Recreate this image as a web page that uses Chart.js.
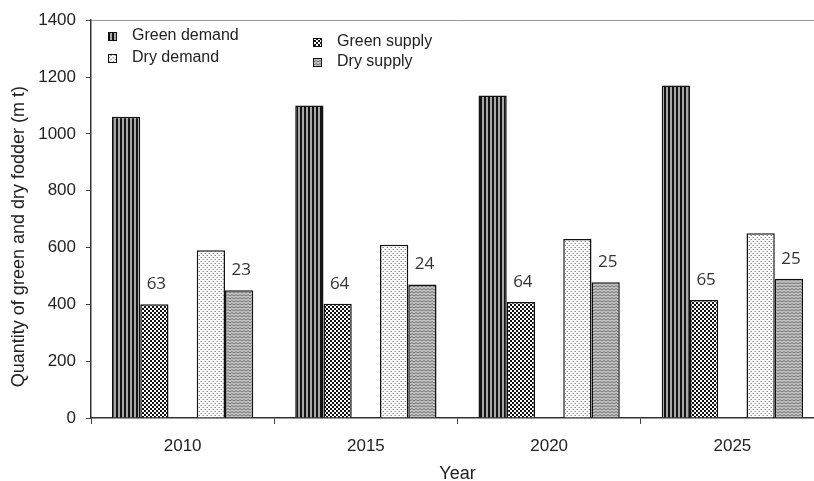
<!DOCTYPE html>
<html>
<head>
<meta charset="utf-8">
<script src="https://cdn.jsdelivr.net/npm/chart.js@4.4.1/dist/chart.umd.min.js"></script>
<style>
  html, body { margin: 0; padding: 0; background: #fff; overflow: hidden; }
</style>
</head>
<body>
<canvas id="chart" width="834" height="481"></canvas>
<script>
const years = ['2010', '2015', '2020', '2025'];
const greenDemand = [1060, 1100, 1135, 1170];
const greenSupply = [400, 402, 408, 415];
const dryDemand = [590, 610, 630, 650];
const drySupply = [450, 470, 478, 490];
// percentage labels written above the supply bars
const greenSupplyPct = [63, 64, 64, 65];
const drySupplyPct = [23, 24, 25, 25];
const spacer = [null, null, null, null];
const yTicks = [0, 200, 400, 600, 800, 1000, 1200, 1400];

const FONT = '"Liberation Sans", Arial, sans-serif';

function makePattern(w, h, draw) {
  const c = document.createElement('canvas');
  c.width = w;
  c.height = h;
  const g = c.getContext('2d');
  draw(g);
  return g.createPattern(c, 'repeat');
}

// vertical stripes
const stripes = makePattern(4, 4, (g) => {
  g.fillStyle = '#a8a8a8';
  g.fillRect(0, 0, 4, 4);
  g.fillStyle = '#141414';
  g.fillRect(0, 0, 2, 4);
});
// checker
const checks = makePattern(4, 4, (g) => {
  g.fillStyle = '#111';
  g.fillRect(0, 0, 4, 4);
  g.fillStyle = '#fff';
  g.fillRect(0, 0, 2, 2);
  g.fillRect(2, 2, 2, 2);
});
// light dots
const dots = makePattern(4, 4, (g) => {
  g.fillStyle = '#fff';
  g.fillRect(0, 0, 4, 4);
  g.fillStyle = '#888';
  g.fillRect(1, 1, 1, 1);
  g.fillRect(3, 3, 1, 1);
  g.fillStyle = '#c8c8c8';
  g.fillRect(0, 1, 1, 1);
  g.fillRect(2, 3, 1, 1);
});
// grey waves
const waves = makePattern(4, 3, (g) => {
  g.fillStyle = '#c4c4c4';
  g.fillRect(0, 0, 4, 3);
  g.strokeStyle = '#6e6e6e';
  g.lineWidth = 1;
  g.beginPath();
  g.moveTo(0, 0.5);
  g.lineTo(2, 2);
  g.lineTo(4, 0.5);
  g.stroke();
});

const legendPlugin = {
  id: 'cornerLegend',
  afterDraw(chart) {
    const ctx = chart.ctx;
    const spots = {
      'Green demand': [108, 32],
      'Dry demand': [108, 54],
      'Green supply': [313, 38],
      'Dry supply': [313, 58],
    };
    ctx.save();
    ctx.font = '16px ' + FONT;
    ctx.textBaseline = 'middle';
    ctx.textAlign = 'left';
    chart.data.datasets.forEach((ds) => {
      const p = spots[ds.label];
      if (!p) return;
      ctx.fillStyle = ds.backgroundColor;
      ctx.fillRect(p[0], p[1], 9, 9);
      ctx.strokeStyle = '#111';
      ctx.lineWidth = 1;
      ctx.strokeRect(p[0] + 0.5, p[1] + 0.5, 8, 8);
      ctx.fillStyle = '#222';
      ctx.fillText(ds.label, p[0] + 24, p[1] + 4);
    });
    ctx.restore();
  },
};

const pctPlugin = {
  id: 'pctLabels',
  afterDatasetsDraw(chart) {
    const ctx = chart.ctx;
    ctx.save();
    ctx.font = '17px "Open Sans", sans-serif';
    ctx.fillStyle = '#333';
    ctx.textAlign = 'center';
    ctx.textBaseline = 'middle';
    chart.data.datasets.forEach((ds, i) => {
      if (!ds.pct) return;
      chart.getDatasetMeta(i).data.forEach((bar, j) => {
        ctx.fillText(String(ds.pct[j]), bar.x + 2, bar.y - 20);
      });
    });
    ctx.restore();
  },
};

const barStyle = { borderColor: '#111', borderWidth: 1.5 };

new Chart(document.getElementById('chart'), {
  type: 'bar',
  data: {
    labels: years,
    datasets: [
      { label: 'Green demand', data: greenDemand, backgroundColor: stripes, ...barStyle },
      { label: 'Green supply', data: greenSupply, backgroundColor: checks, pct: greenSupplyPct, ...barStyle },
      { label: '', data: spacer },
      { label: 'Dry demand', data: dryDemand, backgroundColor: dots, ...barStyle },
      { label: 'Dry supply', data: drySupply, backgroundColor: waves, pct: drySupplyPct, ...barStyle },
    ],
  },
  options: {
    responsive: false,
    animation: false,
    layout: { padding: { top: 19, right: 10, left: 0, bottom: 0 } },
    datasets: { bar: { categoryPercentage: 0.771, barPercentage: 1 } },
    plugins: {
      legend: { display: false },
      tooltip: { enabled: false },
    },
    scales: {
      x: {
        grid: { offset: true, drawOnChartArea: false, tickLength: 6, tickColor: '#444' },
        border: { color: '#333', width: 1.5 },
        ticks: { font: { family: FONT, size: 17 }, color: '#222', padding: 12 },
        title: {
          display: true,
          text: 'Year',
          font: { family: FONT, size: 18, lineHeight: 1 },
          color: '#222',
          padding: { top: 4, bottom: -2 },
        },
        afterFit: (s) => { s.height = 63; },
      },
      y: {
        min: 0,
        max: 1400,
        afterBuildTicks: (s) => { s.ticks = yTicks.map((v) => ({ value: v })); },
        ticks: {
          font: { family: FONT, size: 17 },
          color: '#222',
          padding: 10,
          callback: (v) => String(v),
        },
        grid: {
          color: (c) => (c.tick && c.tick.value === 1400 ? '#999' : 'rgba(0,0,0,0)'),
          tickColor: '#444',
          tickLength: 5,
        },
        border: { color: '#333', width: 1.5 },
        title: {
          display: true,
          // trailing spaces nudge the title a little below the axis centre
          text: 'Quantity of green and dry fodder (m t)       ',
          font: { family: FONT, size: 18 },
          color: '#222',
          padding: { top: 8, bottom: 0 },
        },
        afterFit: (s) => { s.width = 91; },
      },
    },
  },
  plugins: [legendPlugin, pctPlugin],
});
</script>
</body>
</html>
